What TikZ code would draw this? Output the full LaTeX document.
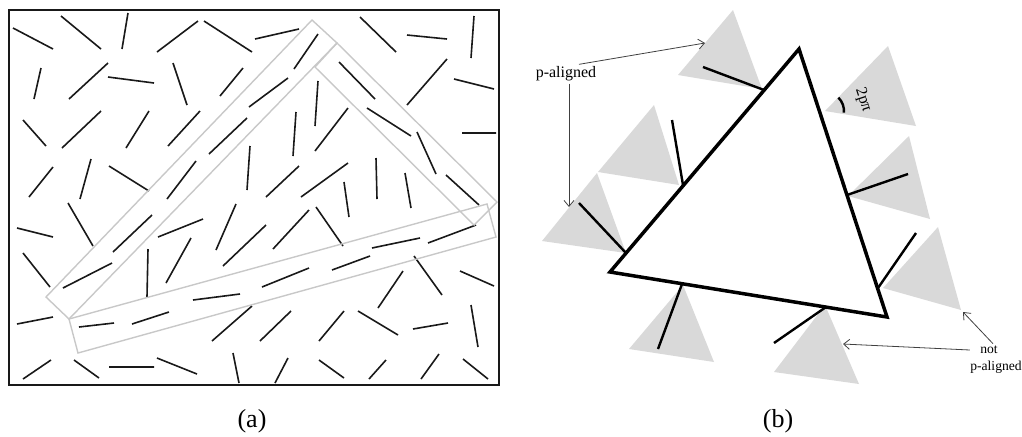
\documentclass[tikz,border=0pt]{standalone}
\usepackage{fontspec}
\setmainfont{Liberation Serif}
\usepackage{tikz}
\usetikzlibrary{positioning,calc}
\usetikzlibrary{arrows.meta}
\definecolor{StripGray}{RGB}{200,200,200}
\definecolor{TriGray}{RGB}{217,217,217}
\definecolor{InkBlack}{RGB}{25,25,25}
\tikzset{
  panelbox/.style={draw=InkBlack,line width=1pt},
  stick/.style={draw=InkBlack,line width=0.8pt},
  strip/.style={draw=StripGray,line width=0.7pt,line join=miter},
  tri/.style={fill=TriGray,draw=none},
  bigtri/.style={draw=black,line width=1.75pt,line join=miter},
  spine/.style={draw=black,line width=1.2pt},
  pointer/.style={draw=black!75,line width=0.4pt,-{Straight Barb[length=3pt,width=5pt]}},
  lbl/.style={font=\fontsize{8}{9.6}\selectfont,inner sep=1pt},
  smalllbl/.style={font=\fontsize{6.8}{8}\selectfont,inner sep=1pt},
  subcap/.style={font=\fontsize{13}{15}\selectfont,inner sep=0pt},
}
\begin{document}
\begin{tikzpicture}[x=0.5pt,y=-0.5pt]
\useasboundingbox (0,0) rectangle (1022,436);
\draw[panelbox] (8.5,9.5) rectangle (498.5,385);
\draw[stick] (13,28)--(53,49) (61,16)--(101,49) (128,13)--(122,49) (157,52)--(198,21) (204,21)--(252,52) (255,39)--(299,29);
\draw[stick] (41,68)--(34,99) (69,99)--(108,63) (108,77)--(154,83) (173,63)--(187,105) (220,96)--(243,68) (249,107)--(288,78);
\draw[stick] (23,120)--(46,146) (62,148)--(101,111) (126,148)--(149,111) (168,146)--(200,111) (209,154)--(247,118) (250,146)--(247,190);
\draw[stick] (29,197)--(53,167) (80,199)--(91,159) (109,166)--(149,191) (167,199)--(196,161);
\draw[stick] (68,203)--(93,246) (17,228)--(53,237) (113,252)--(152,215) (158,237)--(203,219) (216,250)--(236,204) (223,266)--(266,225);
\draw[stick] (23,253)--(50,287) (63,288)--(112,263) (148,249)--(147,297) (166,283)--(191,238) (193,300)--(240,294);
\draw[stick] (17,324)--(53,317) (79,327)--(114,323) (132,324)--(169,312) (212,341)--(252,306);
\draw[stick] (23,379)--(51,360) (74,360)--(99,378) (109,367)--(154,367) (157,358)--(197,374) (233,353)--(239,383);
\draw[stick] (294,69)--(318,34) (360,17)--(396,52) (407,35)--(447,39) (474,16)--(471,58);
\draw[stick] (339,62)--(375,99) (407,105)--(447,59) (454,79)--(494,89);
\draw[stick] (318,81)--(315,126) (296,112)--(293,156) (315,151)--(348,108) (367,108)--(411,136) (417,132)--(436,174) (462,133)--(496,133);
\draw[stick] (266,197)--(299,166) (301,197)--(348,163) (344,182)--(349,217) (376,158)--(377,199) (405,173)--(411,208) (446,175)--(479,205);
\draw[stick] (273,249)--(309,210) (316,207)--(343,246) (372,248)--(420,238) (428,243)--(476,225);
\draw[stick] (262,287)--(309,268) (332,270)--(370,256) (414,256)--(442,295) (378,308)--(403,271) (460,271)--(494,286);
\draw[stick] (260,341)--(291,311) (319,341)--(344,311) (358,311)--(398,335) (413,329)--(448,323) (471,305)--(478,347);
\draw[stick] (275,383)--(288,358) (319,360)--(344,378) (369,379)--(386,360) (421,379)--(439,354) (463,359)--(488,379);
\draw[strip] (312,20)--(337,43)--(69,319)--(46,297)--cycle;
\draw[strip] (337,43)--(315,67)--(474,225)--(497,202)--cycle;
\draw[strip] (69,319)--(78,353)--(496,237)--(487,204)--cycle;
\node[subcap] (capa) at (252,421) {(a)};
\coordinate (bl) at (610,272);
\coordinate (bt) at (799,49);
\coordinate (br) at (887,317);
\fill[tri] (733,10)--(678,75)--(762,89)--cycle;
\fill[tri] (654,105)--(598,172)--(679,185)--cycle;
\fill[tri] (597,173)--(542,241)--(626,253)--cycle;
\fill[tri] (683,285)--(629,349)--(714,362)--cycle;
\fill[tri] (825,305)--(774,372)--(859,384)--cycle;
\fill[tri] (938,227)--(883,288)--(961,310)--cycle;
\fill[tri] (909,136)--(848,196)--(930,219)--cycle;
\fill[tri] (888,46)--(825,111)--(916,126)--cycle;
\draw[spine] (703,67)--(764,90);
\draw[spine] (672,120)--(683,185);
\draw[spine] (579,203)--(626,253);
\draw[spine] (682,284)--(658,349);
\draw[spine] (826,307)--(774,343);
\draw[spine] (878,288)--(916,233);
\draw[spine] (847,195)--(908,174);
\draw[spine] (838.4,97.6) .. controls (842.4,101.6) and (844.4,107.1) .. (843.9,112.7);
\draw[bigtri] (bl)--(bt)--(br)--cycle;
\node[lbl,rotate=-72] (ang) at (863,100) {2pπ};
\node[lbl] (pal) at (566,74) {p-aligned};
\coordinate (toptip) at (705,43);
\coordinate (lefttip) at (569,207);
\draw[pointer] ([xshift=6.5pt]pal.north) -- (toptip);
\draw[pointer] ([xshift=1.5pt]pal.south) -- (lefttip);
\node[smalllbl] (nt) at (989,350) {not};
\node[smalllbl] (npal) at (996,367) {p-aligned};
\coordinate (bottip) at (843,344);
\coordinate (righttip) at (963,312);
\draw[pointer] ([xshift=-4pt]nt.west) -- (bottip);
\draw[pointer] ([xshift=2pt]nt.north) -- (righttip);
\node[subcap] (capb) at (778,421) {(b)};
\end{tikzpicture}
\end{document}
